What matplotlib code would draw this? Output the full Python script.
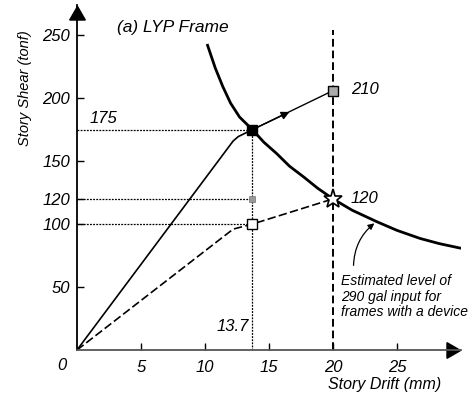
import matplotlib.pyplot as plt

plt.rcParams['font.family'] = ['Liberation Sans', 'DejaVu Sans']
plt.rcParams['font.style'] = 'italic'

# LYP frame without device (solid)
solid_x = [0, 12.2, 12.6, 13.7]
solid_y = [0, 166, 169.5, 175]
# frame with device (dashed)
dash_x = [0, 12.2, 13.7, 20]
dash_y = [0, 96, 100, 120]
# estimated 290 gal level
curve_x = [10.2, 10.8, 11.4, 12.0, 12.7, 13.7, 14.6, 15.6, 16.6, 17.7, 18.8, 20.0,
           21.5, 23.4, 25.0, 26.8, 28.3, 29.9]
curve_y = [242, 224, 209, 196, 185, 175, 165, 156, 146, 137.5, 128.5, 120,
           111, 102, 95, 88.6, 84.5, 81]

drift_yield = 13.7
drift_max = 20
shear_levels = [175, 120, 100]
pt_210 = (20, 206)
yticks = [50, 100, 120, 150, 200, 250]
xticks = [5, 10, 15, 20, 25]

fig = plt.figure(figsize=(4.75, 4.01), dpi=100)
ax = fig.add_axes([77 / 475, 51 / 401, 384 / 475, 345 / 401])
ax.set_xlim(0, 30)
ax.set_ylim(0, 274)
for s in ['top', 'right']:
    ax.spines[s].set_visible(False)
ax.spines['left'].set_linewidth(1.3)
ax.spines['bottom'].set_linewidth(1.3)
ax.spines['bottom'].set_color('#555555')

# axis arrow heads
ax.plot(0, 266, marker=(3, 0, 0), markersize=13, color='black', clip_on=False)
ax.plot(29.2, 0, marker=(3, 0, -90), markersize=13, color='black', clip_on=False)

ax.set_xticks(xticks)
ax.set_xticklabels([str(v) for v in xticks])
ax.set_yticks(yticks)
ax.set_yticklabels([str(v) for v in yticks])
ax.tick_params(direction='in', length=5, width=1, labelsize=12, pad=5)
ax.tick_params(axis='x', pad=7)
ax.text(-0.8, -6, '0', ha='right', va='top', fontsize=12)

# guide lines
for v in shear_levels:
    ax.plot([0, drift_yield], [v, v], color='black', lw=0.9, ls=(0, (1.5, 1)))
ax.plot([drift_yield, drift_yield], [0, 175], color='black', lw=0.9, ls=(0, (1.5, 1)))
ax.plot([drift_max, drift_max], [0, 254], color='black', lw=1.4, ls=(0, (4, 2)))

ax.plot(solid_x, solid_y, color='black', lw=1.2)
ax.plot(dash_x, dash_y, color='black', lw=1.2, ls=(0, (5, 2)))
ax.plot(curve_x, curve_y, color='black', lw=2)

# response arrow
ax.plot([drift_yield, pt_210[0]], [175, pt_210[1]], color='black', lw=1)
ax.annotate('', xy=(16.8, 190), xytext=(drift_yield, 175),
            arrowprops=dict(arrowstyle='-|>', color='black', lw=1, mutation_scale=12))

ax.plot(drift_yield, 175, marker='s', ms=7, color='black')
ax.plot(drift_yield, 100, marker='s', ms=7, mfc='white', mec='black', mew=1)
ax.plot(drift_yield, 120, marker='s', ms=5, mfc='#999999', mec='#777777', mew=0.5)
ax.plot(pt_210[0], pt_210[1], marker='s', ms=7, mfc='#aaaaaa', mec='black', mew=1)
ax.plot(drift_max, 120, marker='*', ms=14, mfc='white', mec='black', mew=1.2)

ax.text(1.0, 178, '175', fontsize=12, ha='left', va='bottom')
ax.text(21.4, 207, '210', fontsize=12, ha='left', va='center')
ax.text(21.4, 120, '120', fontsize=12, ha='left', va='center')
ax.text(13.4, 13, '13.7', fontsize=12, ha='right', va='bottom')
ax.text(3.1, 256, '(a) LYP Frame', fontsize=12.5, ha='left', va='center')

ax.annotate('', xy=(23.4, 102), xytext=(21.6, 65),
            arrowprops=dict(arrowstyle='-|>', color='black', lw=0.9,
                            connectionstyle='arc3,rad=-0.25', mutation_scale=9))
ax.text(20.6, 60, 'Estimated level of\n290 gal input for\nframes with a device',
        fontsize=10, ha='left', va='top', linespacing=1.1)

fig.text(25 / 475, 1 - 88 / 401, 'Story Shear (tonf)', rotation=90, fontsize=10.5,
         ha='center', va='center')
fig.text(385 / 475, 1 - 385 / 401, 'Story Drift (mm)', fontsize=11.5, ha='center', va='center')

fig.savefig('out.png', dpi=100)
